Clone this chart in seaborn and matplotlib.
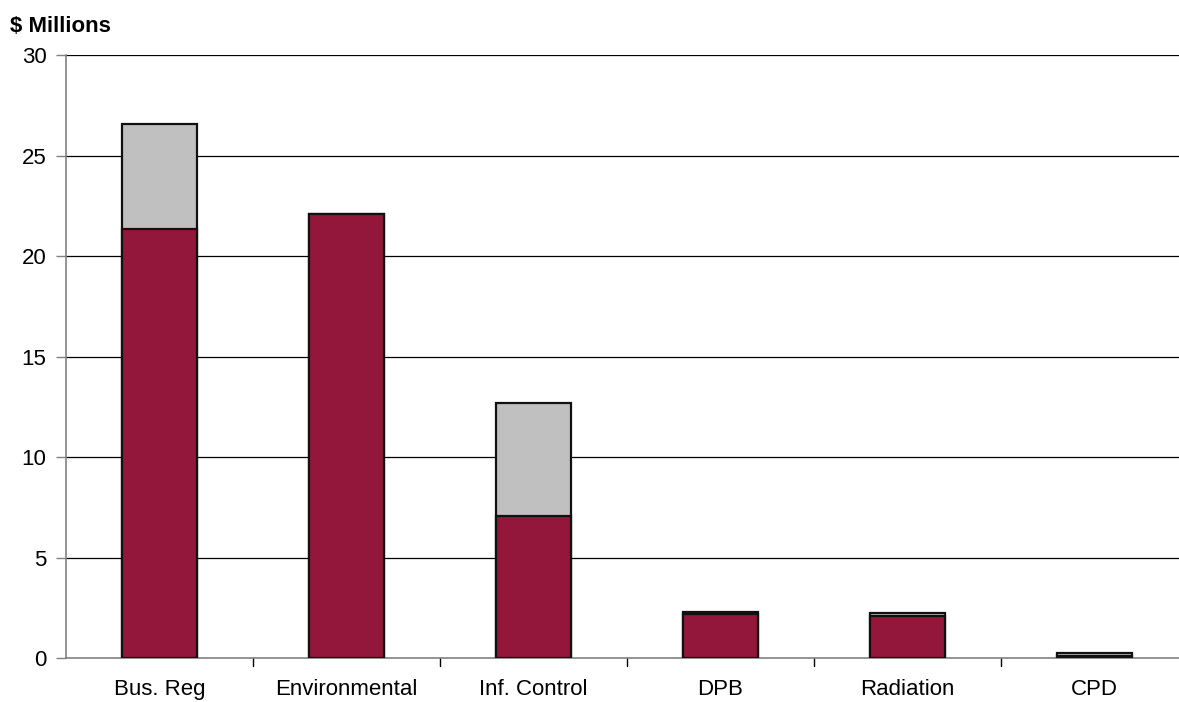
import matplotlib
matplotlib.use("Agg")
import matplotlib.pyplot as plt
import seaborn as sns
import pandas as pd

categories = ["Bus. Reg", "Environmental", "Inf. Control", "DPB", "Radiation", "CPD"]
base_values = [21.35, 22.1, 7.05, 2.17, 2.1, 0.1]
extra_values = [5.22, 0.0, 5.65, 0.12, 0.12, 0.14]
y_ticks = [0, 5, 10, 15, 20, 25, 30]

totals = [b + e for b, e in zip(base_values, extra_values)]
df = pd.DataFrame({"category": categories, "base": base_values, "total": totals})

sns.set_theme(style="white")
plt.rcParams["font.family"] = ["Liberation Sans", "DejaVu Sans"]
plt.rcParams["text.color"] = "black"
plt.rcParams["xtick.color"] = "black"
plt.rcParams["ytick.color"] = "black"

W, H = 1179, 702
fig = plt.figure(figsize=(W / 100, H / 100), dpi=100)
ax = fig.add_axes([66 / W, 1 - 658 / H, 1122 / W, (658 - 55) / H])

for y in y_ticks[1:]:
    ax.axhline(y, color="black", linewidth=0.9, zorder=0)

sns.barplot(data=df, x="category", y="total", color="#C0C0C0", width=0.4,
            edgecolor="#111111", linewidth=1.6, saturation=1, ax=ax, zorder=2)
sns.barplot(data=df, x="category", y="base", color="#93173A", width=0.4,
            edgecolor="#111111", linewidth=1.6, saturation=1, ax=ax, zorder=3)

ax.set_xlim(-0.5, len(categories) - 0.5)
ax.set_ylim(0, 30)
ax.set_yticks(y_ticks)
ax.set_yticklabels([str(v) for v in y_ticks], fontsize=16, color="black")
ax.set_xticks(range(len(categories)))
ax.set_xticklabels(categories, fontsize=16, color="black")
ax.tick_params(axis="x", length=0, pad=15, colors="black")
ax.tick_params(axis="y", length=7, width=1, color="#808080", labelcolor="black",
               direction="out", pad=7, left=True)

# small separator ticks between categories
for i in range(len(categories) - 1):
    ax.plot([i + 0.5, i + 0.5], [0, -0.013], transform=ax.get_xaxis_transform(),
            color="black", linewidth=1, clip_on=False)

ax.set_xlabel("")
ax.set_ylabel("")
for side in ["top", "right"]:
    ax.spines[side].set_visible(False)
ax.spines["left"].set_color("#808080")
ax.spines["bottom"].set_color("#808080")
ax.spines["left"].set_linewidth(1.2)
ax.spines["bottom"].set_linewidth(1.2)

fig.text(10 / W, 1 - 26 / H, "$ Millions", fontsize=16, fontweight="bold",
         va="center", ha="left", color="black")

fig.savefig("out.png", dpi=100)
